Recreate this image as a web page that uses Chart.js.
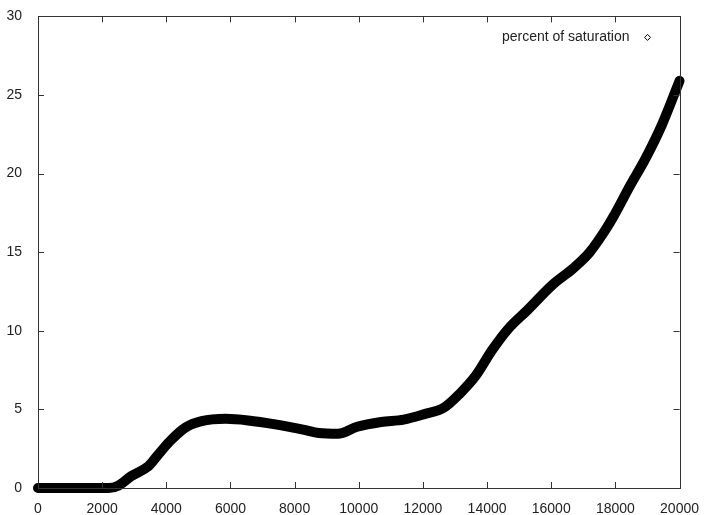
<!DOCTYPE html>
<html>
<head>
<meta charset="utf-8">
<title>percent of saturation</title>
<script src="https://cdn.jsdelivr.net/npm/chart.js@4/dist/chart.umd.min.js"></script>
<style>
  html, body { margin: 0; padding: 0; background: #fff; }
  #wrap { width: 704px; height: 515px; }
</style>
</head>
<body>
<div id="wrap"><canvas id="grafico" width="704" height="515"></canvas></div>
<script>
// datos
const tiempos = [0, 1000, 2000, 2200, 2500, 2900, 3450, 3700, 4100, 4600, 5100, 5850, 6550, 7400, 8300, 8750, 9350, 9950,
                 10700, 11400, 12050, 12650, 13150, 13650, 14150, 14650, 15250, 16050, 16700, 17200, 17700, 17950, 18450, 18950, 19450, 20000];
const saturacion = [0, 0, 0, 0, 0.15, 0.75, 1.4, 2.0, 2.95, 3.85, 4.25, 4.4, 4.3, 4.05, 3.7, 3.5, 3.45, 3.9,
                    4.2, 4.35, 4.7, 5.1, 6.0, 7.15, 8.75, 10.1, 11.3, 12.95, 14.0, 15.0, 16.45, 17.3, 19.2, 21.0, 23.1, 25.9];
const ticksX = [0, 2000, 4000, 6000, 8000, 10000, 12000, 14000, 16000, 18000, 20000];
const ticksY = [0, 5, 10, 15, 20, 25, 30];
const etiqueta = 'percent of saturation';

const fuente = '"Liberation Sans", Arial, Helvetica, sans-serif';

// marco y marcas hacia dentro, estilo gnuplot
const marcoPlugin = {
    id: 'marco',
    afterDraw(chart) {
        const ctx = chart.ctx;
        const a = chart.chartArea;
        const sx = chart.scales.x;
        const sy = chart.scales.y;
        ctx.save();
        ctx.strokeStyle = '#333';
        ctx.lineWidth = 1;
        ctx.strokeRect(Math.round(a.left) + 0.5, Math.round(a.top) + 0.5,
                       Math.round(a.right - a.left), Math.round(a.bottom - a.top));
        ctx.beginPath();
        ticksX.forEach(function(v) {
            const px = Math.round(sx.getPixelForValue(v)) + 0.5;
            ctx.moveTo(px, a.bottom); ctx.lineTo(px, a.bottom - 6);
            ctx.moveTo(px, a.top); ctx.lineTo(px, a.top + 6);
        });
        ticksY.forEach(function(v) {
            const py = Math.round(sy.getPixelForValue(v)) + 0.5;
            ctx.moveTo(a.left, py); ctx.lineTo(a.left + 6, py);
            ctx.moveTo(a.right, py); ctx.lineTo(a.right - 6, py);
        });
        ctx.stroke();

        // leyenda: texto y luego el rombo
        ctx.fillStyle = '#222';
        ctx.font = '14px ' + fuente;
        ctx.textAlign = 'right';
        ctx.textBaseline = 'middle';
        ctx.fillText(etiqueta, a.right - 50, a.top + 21);
        const cx = a.right - 32, cy = a.top + 21;
        ctx.strokeStyle = '#000';
        ctx.beginPath();
        ctx.moveTo(cx, cy - 3); ctx.lineTo(cx + 3, cy); ctx.lineTo(cx, cy + 3); ctx.lineTo(cx - 3, cy);
        ctx.closePath();
        ctx.stroke();
        ctx.restore();
    }
};

new Chart(document.getElementById('grafico'), {
    type: 'line',
    data: {
        datasets: [{
            label: etiqueta,
            data: tiempos.map(function(t, i) { return { x: t, y: saturacion[i] }; }),
            borderColor: '#000',
            backgroundColor: '#000',
            borderWidth: 10,
            borderCapStyle: 'round',
            borderJoinStyle: 'round',
            cubicInterpolationMode: 'monotone',
            pointRadius: 0,
            clip: false
        }]
    },
    options: {
        responsive: false,
        animation: false,
        layout: { padding: { top: 13, right: 20, left: 0, bottom: 0 } },
        plugins: {
            legend: { display: false },
            tooltip: { enabled: false }
        },
        scales: {
            x: {
                type: 'linear',
                min: 0,
                max: 20000,
                afterFit: function(s) { s.height = 27; },
                afterBuildTicks: function(s) { s.ticks = ticksX.map(function(v) { return { value: v }; }); },
                grid: { display: false },
                border: { display: false },
                ticks: {
                    color: '#222',
                    padding: 5,
                    maxRotation: 0,
                    autoSkip: false,
                    font: { family: fuente, size: 14 },
                    callback: function(v) { return String(v); }
                }
            },
            y: {
                min: 0,
                max: 30,
                afterFit: function(s) { s.width = 38; },
                afterBuildTicks: function(s) { s.ticks = ticksY.map(function(v) { return { value: v }; }); },
                grid: { display: false },
                border: { display: false },
                ticks: {
                    color: '#222',
                    padding: 8,
                    font: { family: fuente, size: 14 }
                }
            }
        }
    },
    plugins: [marcoPlugin]
});
</script>
</body>
</html>
